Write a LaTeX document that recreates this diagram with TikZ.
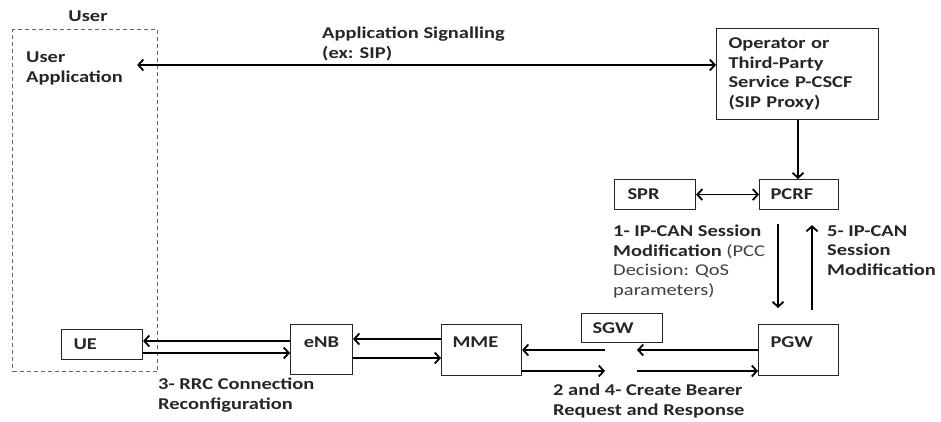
\documentclass[tikz,border=0pt]{standalone}
\usepackage{fontspec}
\setmainfont{Carlito}[FakeStretch=1.24]
\usetikzlibrary{arrows.meta,calc}
\definecolor{txt}{HTML}{262626}
\definecolor{regtxt}{HTML}{404040}
\begin{document}
\begin{tikzpicture}[x=1pt,y=-1pt,
  font=\fontsize{16.5}{19.5}\selectfont\bfseries, text=txt,
  box/.style={draw=black!85, line width=1.1pt, anchor=north west, align=left},
  lbl/.style={anchor=north west, inner sep=0pt, align=left},
  arr/.style={line width=1.8pt, -{Straight Barb[length=5pt,width=11pt]}},
  darr/.style={line width=1.8pt, {Straight Barb[length=5pt,width=11pt]}-{Straight Barb[length=5pt,width=11pt]}}]
\useasboundingbox (0,0) rectangle (941,421);

% user area
\node[draw=black!60, dashed, dash pattern=on 4pt off 3pt, line width=1.3pt,
      minimum width=145pt, minimum height=342pt, anchor=north west, inner sep=0pt] (user) at (12,29) {};
\node (userlbl) at (88,16) {User};
\node[lbl] (uapp) at (26,52) {User\\Application};

% boxes
\node[box, minimum width=162pt, minimum height=91pt, inner xsep=12pt, text width=138pt] (op) at (716,28)
  {Operator or\\Third-Party\\Service P-CSCF\\(SIP Proxy)};
\node[box, minimum width=81pt, minimum height=30pt, inner xsep=13pt, text width=55pt] (spr) at (614,179) {SPR};
\node[box, minimum width=79pt, minimum height=30pt, inner xsep=11pt, text width=57pt] (pcrf) at (759,179) {PCRF};
\node[box, minimum width=80pt, minimum height=51pt, inner xsep=12pt, text width=56pt, text depth=15pt] (pgw) at (758,324) {PGW};
\node[box, minimum width=80pt, minimum height=51pt, inner xsep=11pt, text width=58pt, text depth=15pt] (mme) at (441,324) {MME};
\node[box, minimum width=81pt, minimum height=29pt, inner xsep=11pt, text width=59pt] (sgw) at (581,313) {SGW};
\node[box, minimum width=62pt, minimum height=50pt, inner xsep=4pt, text width=54pt, align=center, text depth=15pt] (enb) at (290,324) {eNB};
\node[box, minimum width=81pt, minimum height=30pt, inner xsep=12pt, text width=57pt] (ue) at (61,329) {UE};

% labels
\node[lbl] (siglbl) at (322,27) {Application Signalling\\(ex: SIP)};
\node[lbl] (l1) at (613,225) {1- IP-CAN Session\\Modification {\mdseries\color{regtxt}(PCC}\\{\mdseries\color{regtxt}Decision: QoS}\\{\mdseries\color{regtxt}parameters)}};
\node[lbl] (l5) at (827,225) {5- IP-CAN\\Session\\Modification};
\node[lbl] (l3) at (158,378) {3- RRC Connection\\Reconfiguration};
\node[lbl] (l2) at (553,384) {2 and 4- Create Bearer\\Request and Response};

% connectors
\draw[darr] ([xshift=14pt]uapp.east |- 0,65) -- (op.west |- 0,65);
\draw[arr] (op.south -| 798,0) -- (pcrf.north -| 798,0);
\draw[darr] (spr.east) -- (pcrf.west);
\draw[arr] ($(pcrf.south -| 778,0)+(0,14)$) -- ($(pgw.north -| 778,0)+(0,-16)$);
\draw[arr] ($(pgw.north -| 812,0)+(0,-14)$) -- ($(pcrf.south -| 812,0)+(0,15)$);

\draw[arr] (enb.west |- 0,341) -- (ue.east |- 0,341);
\draw[arr] (ue.east |- 0,353) -- (enb.west |- 0,353);
\draw[arr] (mme.west |- 0,339) -- (enb.east |- 0,339);
\draw[arr] (enb.east |- 0,358) -- (mme.west |- 0,358);

\coordinate (gl) at (605,0);
\coordinate (gr) at (637,0);
\draw[arr] (pgw.west |- 0,350) -- (gr |- 0,350);
\draw[arr] (gl |- 0,350) -- (mme.east |- 0,350);
\draw[arr] (mme.east |- 0,371) -- (gl |- 0,371);
\draw[arr] (gr |- 0,371) -- (pgw.west |- 0,371);
\end{tikzpicture}
\end{document}
